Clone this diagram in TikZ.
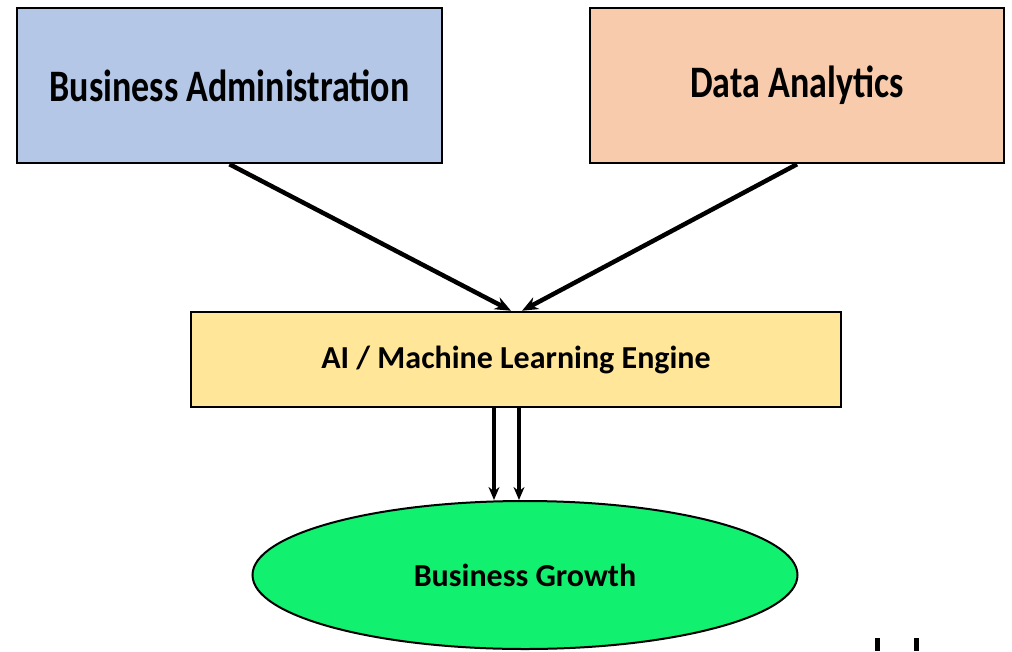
\documentclass[tikz,border=0pt]{standalone}
\usepackage{fontspec}
\setmainfont{Carlito}
\newfontfamily\narrowfont{Carlito}[FakeStretch=0.8]
\usetikzlibrary{shapes.geometric,arrows.meta}
\definecolor{adminblue}{RGB}{180,199,231}
\definecolor{datapeach}{RGB}{248,203,173}
\definecolor{engineyellow}{RGB}{255,230,153}
\definecolor{growthgreen}{RGB}{18,240,112}
\tikzset{
  inputbox/.style={draw, line width=2.5pt, minimum height=155pt, inner sep=0pt,
    font=\narrowfont\bfseries\fontsize{45}{50}\selectfont},
  enginebox/.style={draw, fill=engineyellow, line width=2.5pt, minimum width=650pt,
    minimum height=95pt, inner sep=0pt, font=\bfseries\fontsize{32}{36}\selectfont},
  growthnode/.style={draw, ellipse, fill=growthgreen, line width=2pt, minimum width=545pt,
    minimum height=148pt, inner sep=0pt, font=\bfseries\fontsize{32}{36}\selectfont},
  flow/.style={->, line width=4.5pt},
}
\begin{document}
\begin{tikzpicture}[x=1pt, y=-1pt, >={Stealth[length=16pt,width=13pt]}]
    \useasboundingbox (0,0) rectangle (1012,651);

    % Draw the two input boxes
    \node[inputbox, fill=adminblue, minimum width=425pt] (admin) at (229.5,85.5) {Business Administration};
    \node[inputbox, fill=datapeach, minimum width=414pt] (data) at (797,85.5) {Data Analytics};

    % Draw the engine box and the growth ellipse
    \node[enginebox] (engine) at (516,359.5) {AI / Machine Learning Engine};
    \node[growthnode] (growth) at (525,575) {Business Growth};

    % Draw the arrows into the engine
    \draw[flow] (admin.south) -- ([xshift=-5pt]engine.north);
    \draw[flow] (data.south) -- ([xshift=6pt]engine.north);

    % Draw the two arrows down to the growth ellipse
    \draw[flow, line width=4pt, >={Stealth[length=13pt,width=11pt]}] ([xshift=-22pt]engine.south) -- ([xshift=-22pt]engine.south |- growth.north);
    \draw[flow, line width=4pt, >={Stealth[length=13pt,width=11pt]}] ([xshift=3pt]engine.south) -- ([xshift=3pt]engine.south |- growth.north);

    % Cut-off marks at the lower edge
    \draw[line width=5pt] (877,638) -- (877,651);
    \draw[line width=5pt] (916,638) -- (916,651);
\end{tikzpicture}
\end{document}
